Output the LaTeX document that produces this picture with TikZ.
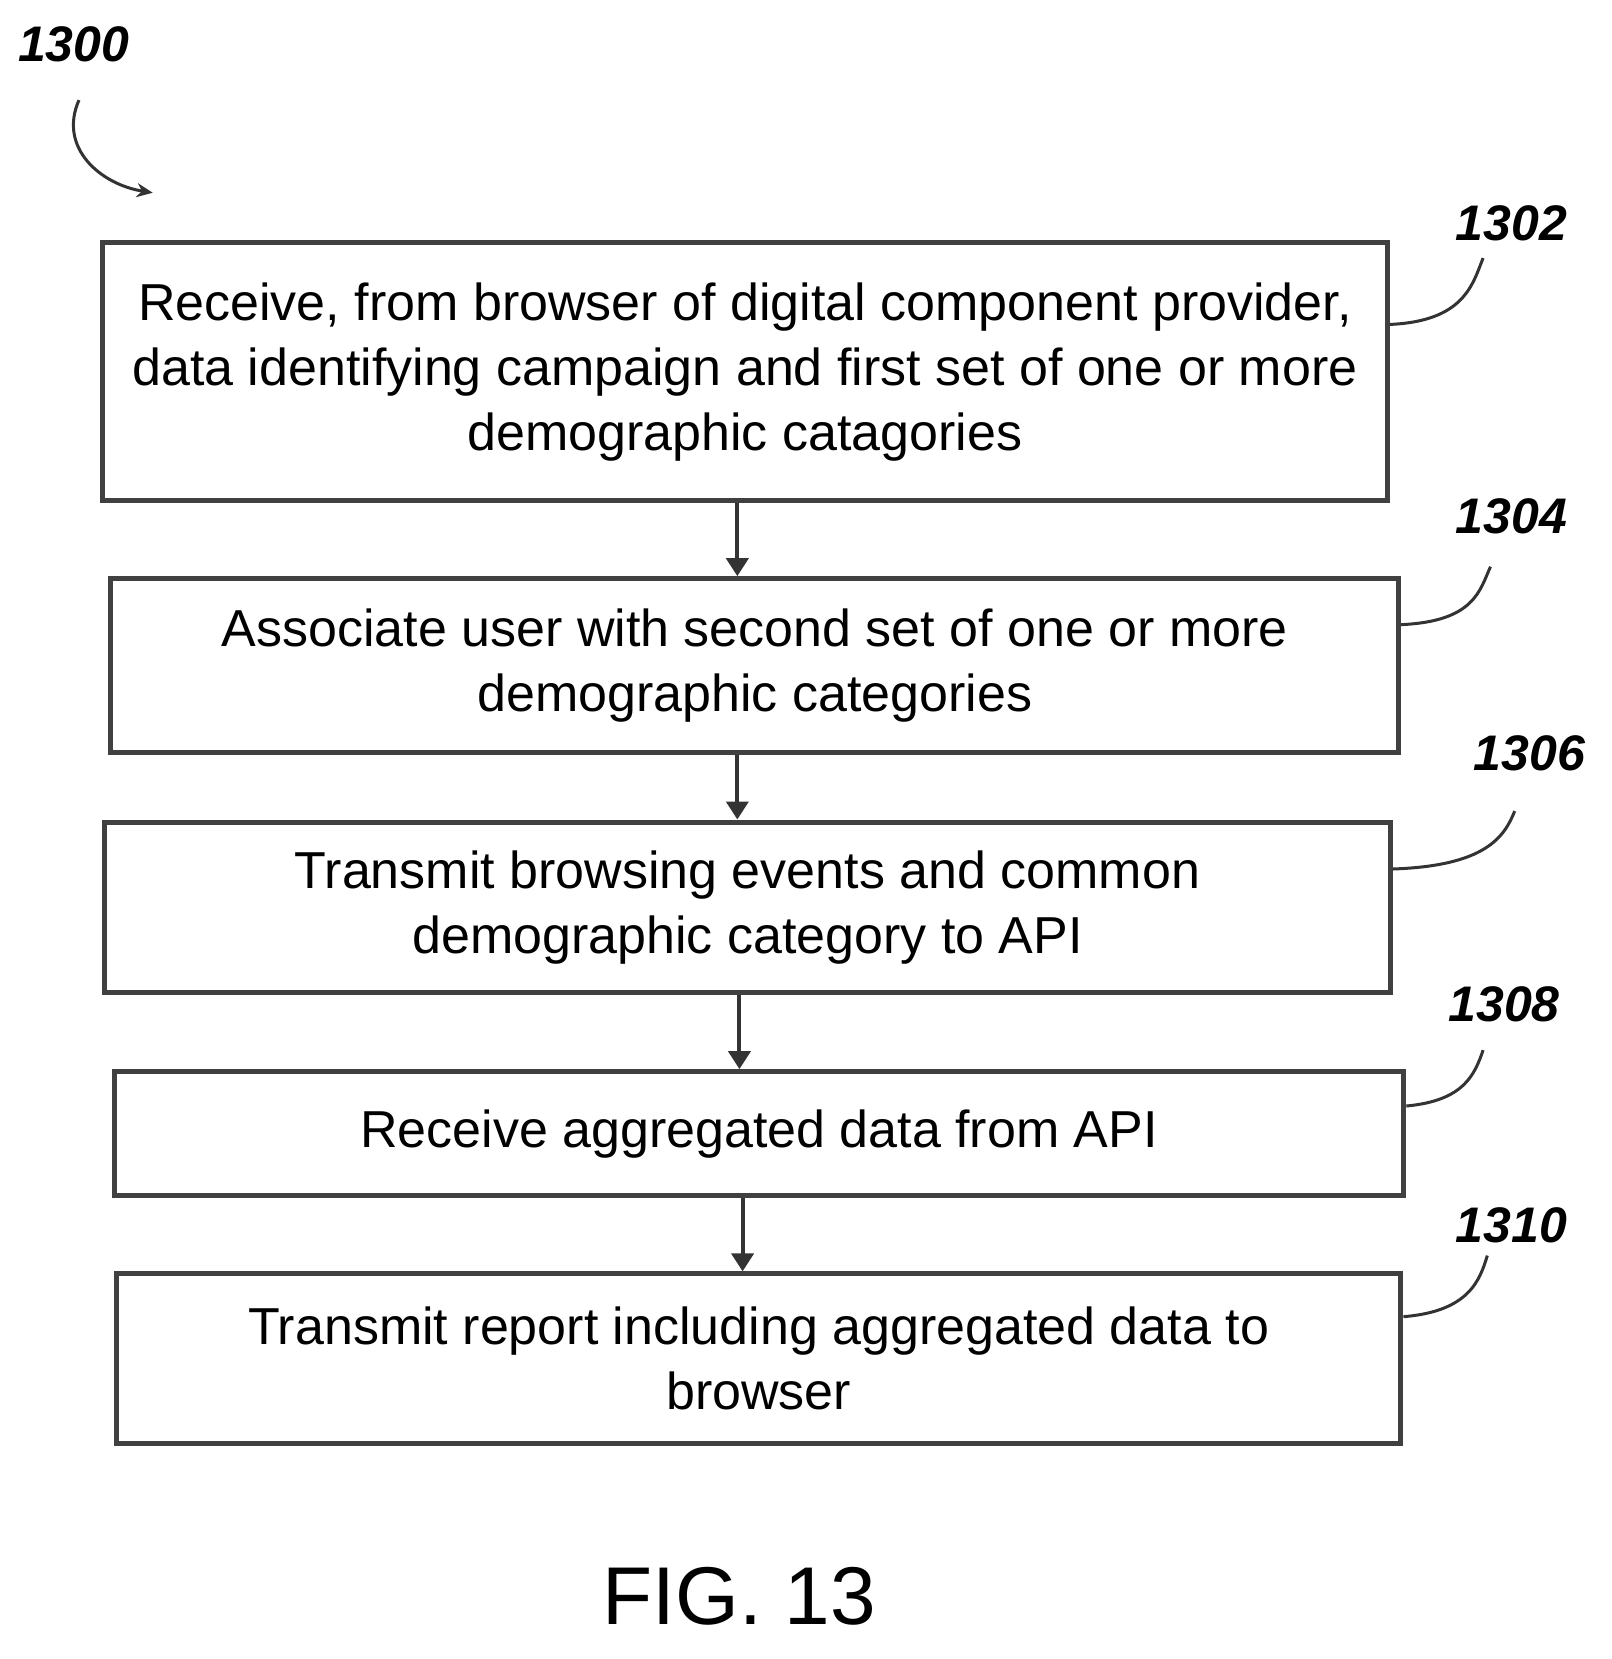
\documentclass[tikz,border=0pt]{standalone}
\usepackage{fontspec}
\setmainfont{Liberation Sans}
\usetikzlibrary{arrows.meta}
\begin{document}
\begin{tikzpicture}[x=1.0536pt,y=-1.0536pt,
 box/.style={draw=black!75,line width=5pt,inner sep=0pt,anchor=north west,align=center,font=\fontsize{52}{65}\selectfont},
 arr/.style={draw=black!80,line width=4pt,-{Triangle[length=18pt,width=22pt]}},
 lbl/.style={font=\fontsize{50}{54}\selectfont\bfseries\itshape},
 lead/.style={draw=black!80,line width=3pt}]
\useasboundingbox (0,0) rectangle (1530,1575);
\node[lbl] (n1300) at (70,42) {1300};
\draw[lead,-{Stealth[length=16pt,width=14pt]}] (75,95) .. controls (55,140) and (95,175) .. (145,183);
\node[box,minimum width=1285pt,minimum height=258pt] (b1) at (95,228) {Receive, from browser of digital component provider,\\data identifying campaign and first set of one or more\\demographic catagories};
\node[box,minimum width=1288pt,minimum height=174pt] (b2) at (103,547) {Associate user with second set of one or more\\demographic categories};
\node[box,minimum width=1286pt,minimum height=171pt] (b3) at (97,778) {Transmit browsing events and common\\demographic category to API};
\node[box,minimum width=1290pt,minimum height=124pt] (b4) at (106,1015) {Receive aggregated data from API};
\node[box,minimum width=1285pt,minimum height=170pt] (b5) at (108,1207) {Transmit report including aggregated data to\\browser};
\coordinate (t2) at (700,547); \coordinate (t3) at (700,778);
\coordinate (t4) at (702,1015); \coordinate (t5) at (705,1207);
\draw[arr] (t2|-b1.south) -- (t2);
\draw[arr] (t3|-b2.south) -- (t3);
\draw[arr] (t4|-b3.south) -- (t4);
\draw[arr] (t5|-b4.south) -- (t5);
\node[lbl] (l1) at (1435,212) {1302};
\node[lbl] (l2) at (1435,490) {1304};
\node[lbl] (l3) at (1452,715) {1306};
\node[lbl] (l4) at (1428,953) {1308};
\node[lbl] (l5) at (1435,1163) {1310};
\draw[lead] (b1.east|-0,308) .. controls (1390,305) and (1398,270) .. (1408,245);
\draw[lead] (b2.east|-0,593) .. controls (1400,590) and (1405,560) .. (1415,538);
\draw[lead] (b3.east|-0,825) .. controls (1410,822) and (1428,795) .. (1438,770);
\draw[lead] (b4.east|-0,1050) .. controls (1390,1045) and (1400,1020) .. (1408,997);
\draw[lead] (b5.east|-0,1250) .. controls (1395,1245) and (1405,1215) .. (1412,1192);
\node[font=\fontsize{82}{90}\selectfont] (fig) at (702,1515) {FIG. 13};
\end{tikzpicture}
\end{document}
